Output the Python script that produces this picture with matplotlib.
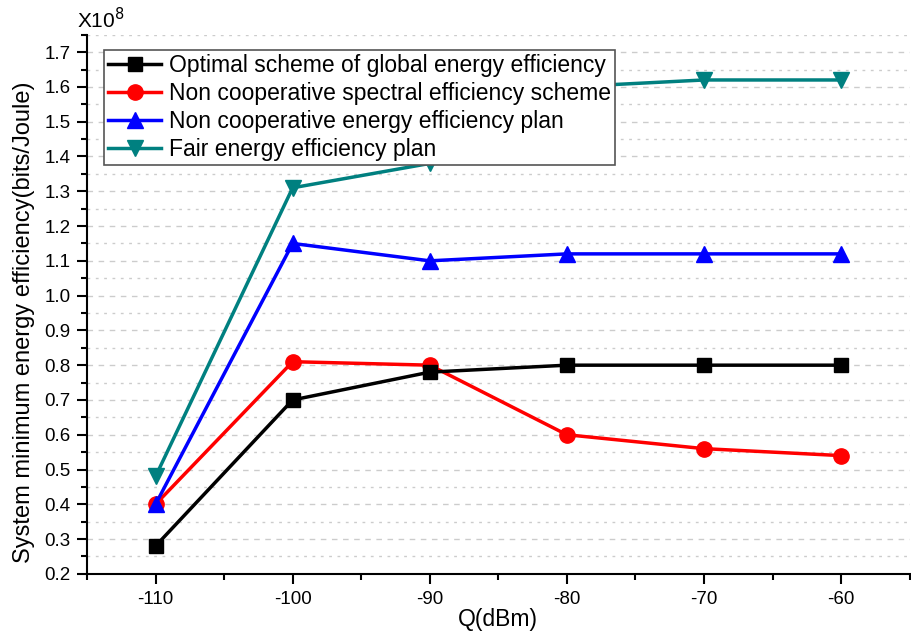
import matplotlib
matplotlib.use("Agg")
import matplotlib.pyplot as plt
from matplotlib.ticker import MultipleLocator

plt.rcParams['font.family'] = ['Liberation Sans', 'DejaVu Sans']
plt.rcParams['axes.unicode_minus'] = False

q = [-110, -100, -90, -80, -70, -60]
global_ee = [0.28, 0.70, 0.78, 0.80, 0.80, 0.80]
noncoop_se = [0.40, 0.81, 0.80, 0.60, 0.56, 0.54]
noncoop_ee = [0.40, 1.15, 1.10, 1.12, 1.12, 1.12]
fair_ee = [0.48, 1.31, 1.38, 1.60, 1.62, 1.62]
labels = ["Optimal scheme of global energy efficiency",
          "Non cooperative spectral efficiency scheme",
          "Non cooperative energy efficiency plan",
          "Fair energy efficiency plan"]

fig = plt.figure(figsize=(9.11, 6.32), dpi=100)
ax = fig.add_axes([0.0955, 0.092, 0.903, 0.853])

ax.plot(q, global_ee, color='black', lw=2.5, marker='s', ms=10, label=labels[0], zorder=5)
ax.plot(q, noncoop_se, color='red', lw=2.5, marker='o', ms=11, label=labels[1], zorder=4)
ax.plot(q, noncoop_ee, color='blue', lw=2.5, marker='^', ms=12, label=labels[2], zorder=6)
ax.plot(q, fair_ee, color='#008080', lw=2.5, marker='v', ms=12, label=labels[3], zorder=3)

ax.set_xlim(-115, -55)
ax.xaxis.set_major_locator(MultipleLocator(10))
ax.xaxis.set_minor_locator(MultipleLocator(5))
ax.yaxis.set_minor_locator(MultipleLocator(0.05))
ax.set_yticks([round(0.2 + 0.1 * i, 1) for i in range(16)])
ax.set_yticklabels([f"{0.2 + 0.1 * i:.1f}" for i in range(16)])
ax.set_ylim(0.2, 1.75)

ax.grid(which='major', axis='y', color='#cccccc', ls=(0, (4, 4)), lw=1)
ax.grid(which='minor', axis='y', color='#cccccc', ls=(0, (2, 4)), lw=1)
ax.set_axisbelow(True)

for s in ['top', 'right']:
    ax.spines[s].set_visible(False)
for s in ['left', 'bottom']:
    ax.spines[s].set_linewidth(1.5)

ax.tick_params(which='major', direction='out', length=7, width=1.5, labelsize=13.5, pad=5)
ax.tick_params(which='minor', direction='out', length=4, width=1.5)

ax.set_xlabel("Q(dBm)", fontsize=16.5, labelpad=0)
ax.set_ylabel("System minimum energy efficiency(bits/Joule)", fontsize=17)
ax.yaxis.set_label_coords(-0.063, 0.4675)

ax.text(-0.012, 1.004, r"X10$^{8}$", transform=ax.transAxes, fontsize=15,
        ha='left', va='bottom')

leg = ax.legend(loc='upper left', bbox_to_anchor=(0.0207, 0.972), borderaxespad=0,
                fontsize=16.5, frameon=True, fancybox=False, edgecolor='#555555',
                framealpha=1, handlelength=2.3, borderpad=0.18, labelspacing=0.22,
                handletextpad=0.35)
leg.get_frame().set_linewidth(1.2)
leg.set_zorder(10)

fig.savefig("out.png", dpi=100)
